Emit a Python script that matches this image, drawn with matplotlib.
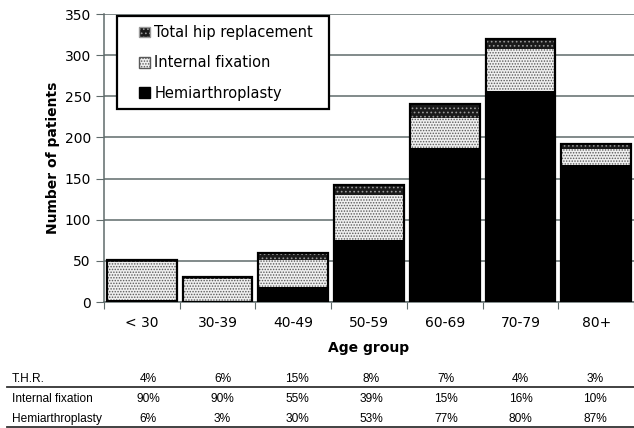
import matplotlib.pyplot as plt
import matplotlib.patches as mpatches
import numpy as np

plt.rcParams['font.family'] = 'DejaVu Sans'
plt.rcParams['hatch.linewidth'] = 0.7

# data
age_groups = ['< 30', '30-39', '40-49', '50-59', '60-69', '70-79', '80+']
hemi = [3, 1, 18, 75, 187, 256, 167]
int_fix = [46, 27, 33, 55, 37, 51, 19]
thr = [2, 2, 9, 12, 17, 13, 6]

thr_pct = ['4%', '6%', '15%', '8%', '7%', '4%', '3%']
if_pct = ['90%', '90%', '55%', '39%', '15%', '16%', '10%']
hemi_pct = ['6%', '3%', '30%', '53%', '77%', '80%', '87%']

x = np.arange(len(age_groups))
hemi = np.array(hemi)
int_fix = np.array(int_fix)
thr = np.array(thr)
total = hemi + int_fix + thr

W, H = 634, 428
fig = plt.figure(figsize=(W / 100, H / 100), dpi=100)
ax = fig.add_axes([104 / W, 1 - 302 / H, 530 / W, 288 / H])

grid_col = '#5f6b6b'
if_face, if_hatch = '#efefef', '#5a5a5a'
thr_face, thr_hatch = '#1a1a1a', '#9a9a9a'
w = 0.92
ax.bar(x, hemi, w, color='black', linewidth=0, zorder=3)
ax.bar(x, int_fix, w, bottom=hemi, facecolor=if_face, edgecolor=if_hatch,
       hatch='......', linewidth=0, zorder=3)
ax.bar(x, thr, w, bottom=hemi + int_fix, facecolor=thr_face, edgecolor=thr_hatch,
       hatch='....', linewidth=0, zorder=3)
ax.bar(x, total, w, fill=False, edgecolor='black', linewidth=1.6, zorder=4)

ax.set_xlim(-0.5, 6.45)
ax.set_ylim(0, 350)
ax.set_yticks(np.arange(0, 351, 50))
ax.yaxis.grid(True, color=grid_col, linewidth=1.1, zorder=0)
ax.set_axisbelow(True)

ax.set_xticks(np.arange(-0.5, 6.6, 1), minor=False)
ax.set_xticklabels([])
ax.set_xticks(x, minor=True)
ax.set_xticklabels(age_groups, minor=True, fontsize=10)
ax.tick_params(axis='x', which='minor', length=0, pad=10)
ax.tick_params(axis='x', which='major', length=5, color=grid_col)
ax.tick_params(axis='y', length=6, color=grid_col, labelsize=10)

for s in ['top', 'right']:
    ax.spines[s].set_visible(False)
for s in ['left', 'bottom']:
    ax.spines[s].set_color(grid_col)
    ax.spines[s].set_linewidth(1.1)

ax.set_ylabel('Number of patients', fontsize=10, fontweight='bold', labelpad=3)
ax.set_xlabel('Age group', fontsize=10, fontweight='bold', labelpad=8)

# legend box drawn separately so its size matches the original
box = mpatches.Rectangle((117 / W, 1 - 109 / H), 212 / W, 93 / H, transform=fig.transFigure,
                         facecolor='white', edgecolor='black', linewidth=1.6, zorder=5)
fig.add_artist(box)
handles = [
    mpatches.Patch(facecolor=thr_face, edgecolor=thr_hatch, hatch='....', label='Total hip replacement'),
    mpatches.Patch(facecolor=if_face, edgecolor=if_hatch, hatch='......', label='Internal fixation'),
    mpatches.Patch(facecolor='black', edgecolor='black', label='Hemiarthroplasty'),
]
leg = fig.legend(handles=handles, loc='upper left', bbox_to_anchor=(139 / W, 1 - 25 / H),
                 fontsize=10.5, frameon=False, handlelength=0.75, handleheight=0.75,
                 handletextpad=0.3, labelspacing=1.05, borderpad=0, borderaxespad=0)
leg.set_zorder(6)

# table of percentages below the chart
tfont = dict(family='Liberation Sans', fontsize=8.6, va='center', color='black')
col_x = [(148 + 74.5 * i) / W for i in range(len(age_groups))]
rows = [('T.H.R.', thr_pct, 1 - 379 / H),
        ('Internal fixation', if_pct, 1 - 399 / H),
        ('Hemiarthroplasty', hemi_pct, 1 - 419 / H)]
for name, vals, yy in rows:
    fig.text(12 / W, yy, name, ha='left', **tfont)
    for cx, v in zip(col_x, vals):
        fig.text(cx, yy, v, ha='center', **tfont)

for ly in [387, 426.5]:
    fig.add_artist(plt.Line2D([7 / W, 1], [1 - ly / H, 1 - ly / H],
                              color='#333333', linewidth=1.3))

fig.savefig('out.png', dpi=100)
